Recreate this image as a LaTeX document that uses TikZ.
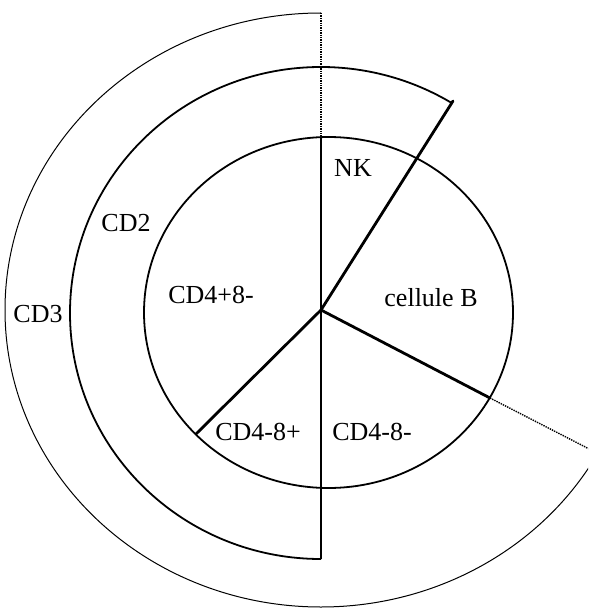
\documentclass[tikz,border=0pt]{standalone}
\usepackage{fontspec}
\setmainfont{Liberation Serif}

\begin{document}
\begin{tikzpicture}[
  x=1pt, y=-1pt,
  font=\fontsize{26}{30}\selectfont,
  ring/.style={draw=black, line width=1.8pt},
  spoke/.style={draw=black, line width=2.8pt, line cap=round},
  axis/.style={draw=black, line width=2.2pt},
  faint/.style={draw=black, line width=1pt},
  dots/.style={draw=black, line width=1.4pt, densely dotted},
  lbl/.style={inner sep=0pt, anchor=center}
]
\useasboundingbox (0,0) rectangle (588,612);
\clip (0,0) rectangle (588,612);

% ---- centre and the ends of the spokes
\coordinate (c)    at (321,310);
\coordinate (top)  at (321,137);
\coordinate (bot)  at (321,559);
\coordinate (nk)   at (453,101);
\coordinate (bcd)  at (490,398);
\coordinate (cd48) at (196,434);
\coordinate (far)  at (597,453);
\coordinate (cap)  at (321,13);

% ---- inner disc
\draw[ring] (328.5,312.5) ellipse [x radius=184.5, y radius=175.5];

% ---- CD2 ring
\draw[ring] (bot) arc [start angle=90, end angle=301.5, x radius=251, y radius=246];

% ---- CD3 ring
\draw[faint] (cap) arc [start angle=270, end angle=28.9, x radius=316, y radius=297];
\draw[dots] (cap) -- (top);
\draw[dots] (bcd) -- (far);

% ---- spokes
\draw[axis]  (top) -- (bot);
\draw[spoke] (c) -- (nk);
\draw[spoke] (c) -- (bcd);
\draw[spoke] (c) -- (cd48);

% ---- labels
\node[lbl] (lnk)  at (353,168) {NK};
\node[lbl] (lcd2) at (126,223) {CD2};
\node[lbl] (lpm)  at (211,295) {CD4+8-};
\node[lbl] (lb)   at (431,298) {cellule B};
\node[lbl] (lcd3) at (38,314)  {CD3};
\node[lbl] (lmp)  at (258,432) {CD4-8+};
\node[lbl] (lmm)  at (372,432) {CD4-8-};

\end{tikzpicture}
\end{document}
